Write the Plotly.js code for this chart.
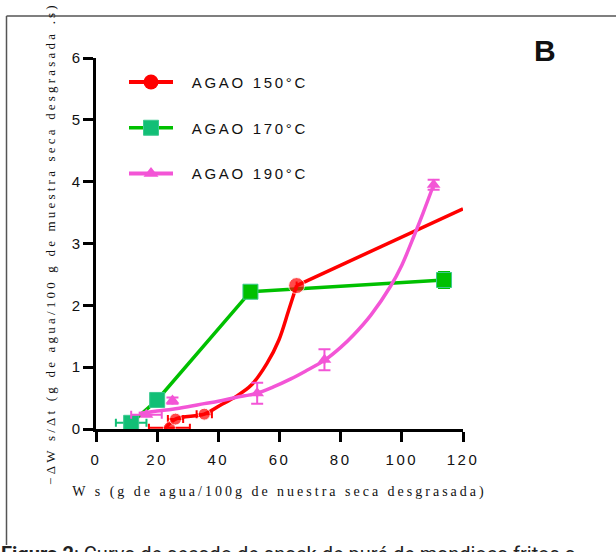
<!DOCTYPE html>
<html>
<head>
<meta charset="utf-8">
<script src="https://cdn.plot.ly/plotly-3.0.1.min.js"></script>
<style>
  html, body { margin: 0; padding: 0; background: #fff; }
  #chart { width: 616px; height: 552px; }
  .xtitle { letter-spacing: 3px; }
  .ytitle { letter-spacing: 3.2px; }
  .xtick text { letter-spacing: 2.5px; }
  .legendtext { letter-spacing: 2.7px; }
</style>
</head>
<body>
<div id="chart"></div>
<script>
// ---- Data ----
const seriesNames = ["AGAO 150°C", "AGAO 170°C", "AGAO 190°C"];

// AGAO 150°C measured points
const redX = [24, 26, 35.4, 65.6];
const redY = [0.02, 0.16, 0.24, 2.32];
const redXErr = [6.7, 2.5, 2.5, null];
// AGAO 150°C drawn curve
const redCurveX = [22.5, 26, 35.4, 40.5, 45.6, 50.8, 55.9, 59.8, 63, 65.6];
const redCurveY = [0.0, 0.16, 0.24, 0.38, 0.52, 0.71, 1.06, 1.44, 1.92, 2.32];
const redTailX = [65.6, 120];
const redTailY = [2.32, 3.56];

// AGAO 170°C measured points
const greenX = [11.5, 20, 50.5, 113.8];
const greenY = [0.10, 0.47, 2.22, 2.41];
const greenXErr = [5, null, null, null];
const greenYErr = [null, null, null, 0.13];

// AGAO 190°C measured points
const pinkX = [16.5, 25, 52.7, 74.7, 110.4];
const pinkY = [0.23, 0.46, 0.58, 1.12, 3.95];
const pinkXErr = [5, null, null, null, null];
const pinkYErr = [null, 0.05, 0.17, 0.17, 0.08];
// AGAO 190°C drawn curve
const pinkCurveX = [14, 20, 25, 30, 35.4, 40, 45.6, 52.7, 58, 63.7, 69, 74.7, 80, 84.2, 90, 96.2, 100, 104.2, 107, 110.4];
const pinkCurveY = [0.25, 0.29, 0.32, 0.36, 0.41, 0.45, 0.51, 0.58, 0.68, 0.81, 0.95, 1.11, 1.32, 1.52, 1.85, 2.30, 2.65, 3.15, 3.50, 3.95];

const xTicks = [0, 20, 40, 60, 80, 100, 120];
const yTicks = [0, 1, 2, 3, 4, 5, 6];

// ---- Styles ----
const RED = "#FF0000", GREEN = "#00C000", TEAL = "#12BF76", PINK = "#F355D6";
const LW = 3.5;
const PAD = "\u00a0\u00a0";

const traces = [
  // legend entries
  { x: [null], y: [null], name: PAD + seriesNames[0], legendgroup: "a", mode: "lines+markers",
    line: { color: RED, width: 4 }, marker: { symbol: "circle", color: RED, size: 15 } },
  { x: greenX, y: greenY, name: PAD + seriesNames[1], legendgroup: "b", mode: "lines+markers",
    line: { color: GREEN, width: LW },
    marker: { symbol: "square", size: 15, color: [TEAL, TEAL, GREEN, GREEN], line: { color: "#3CC990", width: 1 } },
    error_x: { type: "data", array: greenXErr, visible: true, color: TEAL, thickness: 2, width: 4 },
    error_y: { type: "data", array: greenYErr, visible: true, color: GREEN, thickness: 2, width: 6 } },
  { x: [null], y: [null], name: PAD + seriesNames[2], legendgroup: "c", mode: "lines+markers",
    line: { color: PINK, width: 4 }, marker: { symbol: "triangle-up", color: PINK, size: 13 } },

  // curves
  { x: redCurveX, y: redCurveY, mode: "lines", showlegend: false, hoverinfo: "skip",
    line: { color: RED, width: LW, shape: "spline", smoothing: 1 } },
  { x: redTailX, y: redTailY, mode: "lines", showlegend: false, hoverinfo: "skip",
    line: { color: RED, width: LW } },
  { x: pinkCurveX, y: pinkCurveY, mode: "lines", showlegend: false, hoverinfo: "skip",
    line: { color: PINK, width: LW, shape: "spline", smoothing: 1 } },

  // measured points
  { x: redX, y: redY, name: seriesNames[0], mode: "markers", showlegend: false,
    marker: { symbol: "circle", color: RED, size: [12, 12, 12, 16] },
    error_x: { type: "data", array: redXErr, visible: true, color: RED, thickness: 2, width: 4 } },
  { x: pinkX, y: pinkY, name: seriesNames[2], mode: "markers", showlegend: false,
    marker: { symbol: "triangle-up", color: PINK, size: 12 },
    error_x: { type: "data", array: pinkXErr, visible: true, color: PINK, thickness: 2, width: 4 },
    error_y: { type: "data", array: pinkYErr, visible: true, color: PINK, thickness: 2, width: 6 } }
];

const W = 616, H = 552, L = 96, R = 153, T = 58, B = 123;
const pw = W - L - R, ph = H - T - B;
const px = v => (v - L) / pw;
const py = v => (H - B - v) / ph;

const layout = {
  width: W, height: H,
  margin: { l: L, r: R, t: T, b: B, pad: 0 },
  paper_bgcolor: "#ffffff", plot_bgcolor: "#ffffff",
  showlegend: true,
  legend: {
    x: px(124), y: py(65.7), xanchor: "left", yanchor: "top",
    bgcolor: "rgba(0,0,0,0)", borderwidth: 0,
    font: { family: "Liberation Sans, Arial, sans-serif", size: 15, color: "#111" },
    tracegroupgap: 23.3, itemwidth: 44
  },
  xaxis: {
    range: [0, 120], tickvals: xTicks, ticktext: xTicks.map(String),
    showgrid: false, zeroline: false, showline: true, linecolor: "#000", linewidth: 3,
    ticks: "outside", ticklen: 10, tickwidth: 3, tickcolor: "#000", ticklabelstandoff: 5,
    tickfont: { family: "Liberation Sans, Arial, sans-serif", size: 15, color: "#111" },
    title: { text: "W s (g de agua/100g de nuestra seca desgrasada)\u00a0", standoff: 20,
      font: { family: "Liberation Serif, Times New Roman, serif", size: 14, color: "#111" } },
    fixedrange: true
  },
  yaxis: {
    range: [0, 6], tickvals: yTicks, ticktext: yTicks.map(String),
    showgrid: false, zeroline: false, showline: true, linecolor: "#000", linewidth: 3,
    ticks: "outside", ticklen: 10, tickwidth: 3, tickcolor: "#000",
    tickfont: { family: "Liberation Sans, Arial, sans-serif", size: 15, color: "#111" },
    title: { text: "\u2212\u0394W s/\u0394t (g de agua/100 g de muestra seca desgrasada .s)\u00a0\u00a0", standoff: 14,
      font: { family: "Liberation Serif, Times New Roman, serif", size: 13, color: "#111" } },
    fixedrange: true
  },
  shapes: [
    { type: "line", xref: "paper", yref: "paper", x0: px(6.5), y0: py(16), x1: px(617), y1: py(16),
      line: { color: "#555", width: 1.5 }, layer: "below" },
    { type: "line", xref: "paper", yref: "paper", x0: px(6.5), y0: py(16), x1: px(6.5), y1: py(545),
      line: { color: "#555", width: 1.5 }, layer: "below" }
  ],
  annotations: [
    { text: "<b>B</b>", xref: "paper", yref: "paper", x: px(545), y: py(50.5), showarrow: false,
      xanchor: "center", yanchor: "middle",
      font: { family: "Liberation Sans, Arial, sans-serif", size: 30, color: "#111" } },
    { text: "<b>Figura 2</b>: Curva de secado de snack de puré de mandioca fritos a",
      xref: "paper", yref: "paper", x: px(-1), y: py(540), showarrow: false,
      xanchor: "left", yanchor: "top",
      font: { family: "Roboto, Liberation Sans, sans-serif", size: 20, color: "#222" } }
  ]
};

Plotly.newPlot("chart", traces, layout, { staticPlot: true, displayModeBar: false });
</script>
</body>
</html>
